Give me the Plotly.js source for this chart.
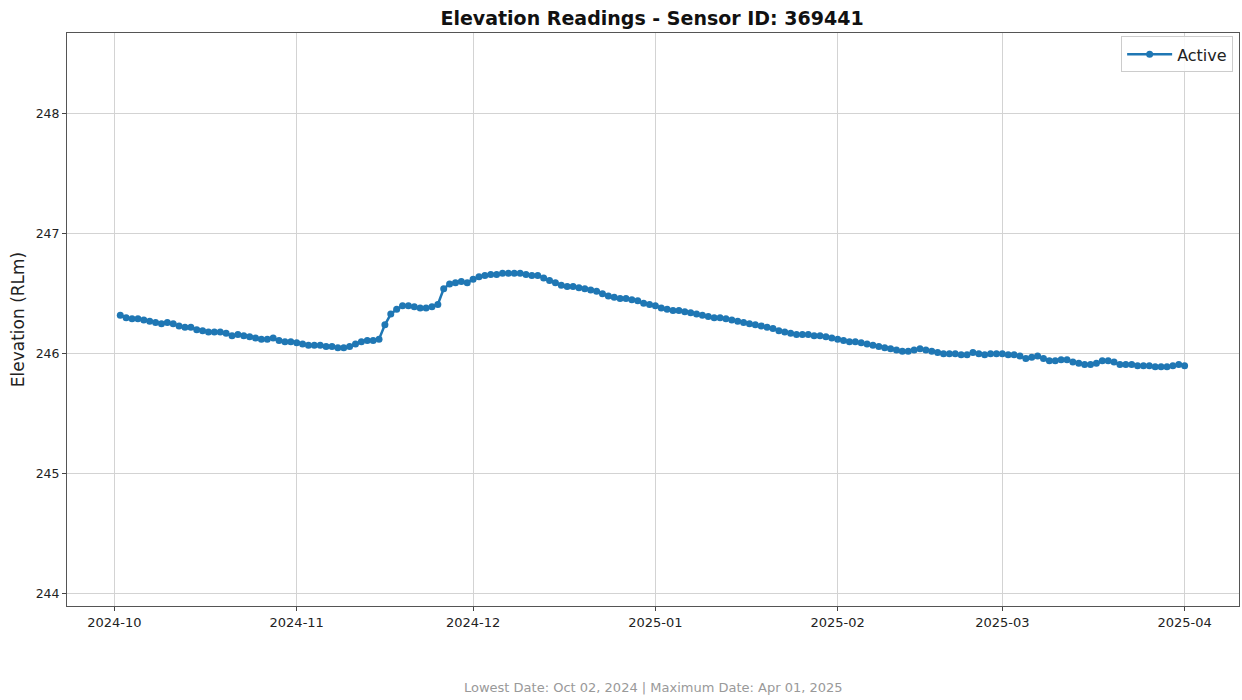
<!DOCTYPE html>
<html>
<head>
<meta charset="utf-8">
<script src="https://cdn.plot.ly/plotly-3.0.1.min.js"></script>
<style>
html,body{margin:0;padding:0;background:#fff;}
#chart{width:1242px;height:700px;}
</style>
</head>
<body>
<div id="chart"></div>
<script>
// Daily elevation readings (RLm)
const octStart = '2024-10-02';
const octValues = [246.32,246.30,246.29,246.29,246.28,246.27,246.26,246.25,246.26,246.25,
  246.23,246.22,246.22,246.20,246.19,246.18,246.18,246.18,246.17,246.15,
  246.16,246.15,246.14,246.13,246.12,246.12,246.13,246.11,246.10,246.10];
const novStart = '2024-11-01';
const novValues = [246.09,246.08,246.07,246.07,246.07,246.06,246.06,246.05,246.05,246.06,
  246.08,246.10,246.11,246.11,246.12,246.24,246.33,246.37,246.40,246.40,
  246.39,246.38,246.38,246.39,246.41,246.54,246.58,246.59,246.60,246.59];
const decStart = '2024-12-01';
const decValues = [246.62,246.64,246.65,246.66,246.66,246.67,246.67,246.67,246.67,246.66,
  246.65,246.65,246.63,246.61,246.59,246.57,246.56,246.56,246.55,246.54,
  246.53,246.52,246.50,246.48,246.47,246.46,246.46,246.45,246.44,246.42,246.41];
const janStart = '2025-01-01';
const janValues = [246.40,246.38,246.37,246.36,246.36,246.35,246.34,246.33,246.32,246.31,
  246.30,246.30,246.29,246.28,246.27,246.26,246.25,246.24,246.23,246.22,
  246.21,246.19,246.18,246.17,246.16,246.16,246.16,246.15,246.15,246.14,246.13];
const febStart = '2025-02-01';
const febValues = [246.12,246.11,246.10,246.10,246.09,246.08,246.07,246.06,246.05,246.04,
  246.03,246.02,246.02,246.03,246.04,246.03,246.02,246.01,246.00,246.00,
  246.00,245.99,245.99,246.01,246.00,245.99,246.00,246.00];
const marStart = '2025-03-01';
const marValues = [246.00,245.99,245.99,245.98,245.96,245.97,245.98,245.96,245.94,245.94,
  245.95,245.95,245.93,245.92,245.91,245.91,245.92,245.94,245.94,245.93,
  245.91,245.91,245.91,245.90,245.90,245.90,245.89,245.89,245.89,245.90,245.91];
const aprStart = '2025-04-01';
const aprValues = [245.90];

const yTickVals = [244,245,246,247,248];
const xTickVals = ['2024-10-01','2024-11-01','2024-12-01','2025-01-01','2025-02-01','2025-03-01','2025-04-01'];
const xTickText = ['2024-10','2024-11','2024-12','2025-01','2025-02','2025-03','2025-04'];
const titleText = 'Elevation Readings - Sensor ID: 369441';
const footerText = 'Lowest Date: Oct 02, 2024 | Maximum Date: Apr 01, 2025';

function dailyDates(start, n){
  const out = [];
  const d0 = new Date(start + 'T00:00:00Z');
  for (let i = 0; i < n; i++){
    const d = new Date(d0.getTime() + i*86400000);
    out.push(d.toISOString().slice(0,10));
  }
  return out;
}
const blocks = [[octStart,octValues],[novStart,novValues],[decStart,decValues],[janStart,janValues],
  [febStart,febValues],[marStart,marValues],[aprStart,aprValues]];
let xs = [], ys = [];
blocks.forEach(([s,v]) => { xs = xs.concat(dailyDates(s, v.length)); ys = ys.concat(v); });

const font = 'DejaVu Sans, Verdana, sans-serif';
const trace = {
  x: xs, y: ys, type: 'scatter', mode: 'lines+markers', name: 'Active',
  line: {color: '#1f77b4', width: 2.5},
  marker: {color: '#1f77b4', size: 7, symbol: 'circle'}
};
const layout = {
  width: 1242, height: 700,
  margin: {l: 67, r: 3, t: 33, b: 94},
  paper_bgcolor: '#ffffff', plot_bgcolor: '#ffffff',
  font: {family: font, color: '#222'},
  title: {text: '<b>' + titleText + '</b>', x: 0.525, xanchor: 'center', y: 0.974, yanchor: 'middle',
    font: {family: font, size: 19, color: '#111'}},
  xaxis: {
    type: 'date', range: ['2024-09-22 22:30', '2025-04-10 06:00'],
    tickvals: xTickVals, ticktext: xTickText,
    ticks: 'outside', ticklen: 4, tickcolor: '#444', tickwidth: 1,
    tickfont: {family: font, size: 13, color: '#222'},
    showgrid: true, gridcolor: '#d3d3d3', gridwidth: 1,
    showline: true, linecolor: '#555', linewidth: 1, mirror: true, zeroline: false
  },
  yaxis: {
    range: [243.898, 248.671],
    tickvals: yTickVals, ticktext: yTickVals.map(String),
    ticks: 'outside', ticklen: 4, tickcolor: '#444', tickwidth: 1,
    tickfont: {family: font, size: 12.5, color: '#222'},
    showgrid: true, gridcolor: '#d3d3d3', gridwidth: 1,
    showline: true, linecolor: '#555', linewidth: 1, mirror: true, zeroline: false,
    title: {text: 'Elevation (RLm)', font: {family: font, size: 17, color: '#222'}, standoff: 6}
  },
  showlegend: true,
  legend: {x: 0.995, y: 0.994, xanchor: 'right', yanchor: 'top', itemwidth: 45,
    bgcolor: 'rgba(255,255,255,0.85)', bordercolor: '#cccccc', borderwidth: 1,
    font: {family: font, size: 16, color: '#222'}},
  annotations: [{
    text: footerText, xref: 'paper', yref: 'paper', x: 0.5, y: -0.143,
    xanchor: 'center', yanchor: 'middle', showarrow: false,
    font: {family: font, size: 13, color: '#999'}
  }]
};
Plotly.newPlot('chart', [trace], layout, {displayModeBar: false, staticPlot: true});
</script>
</body>
</html>
